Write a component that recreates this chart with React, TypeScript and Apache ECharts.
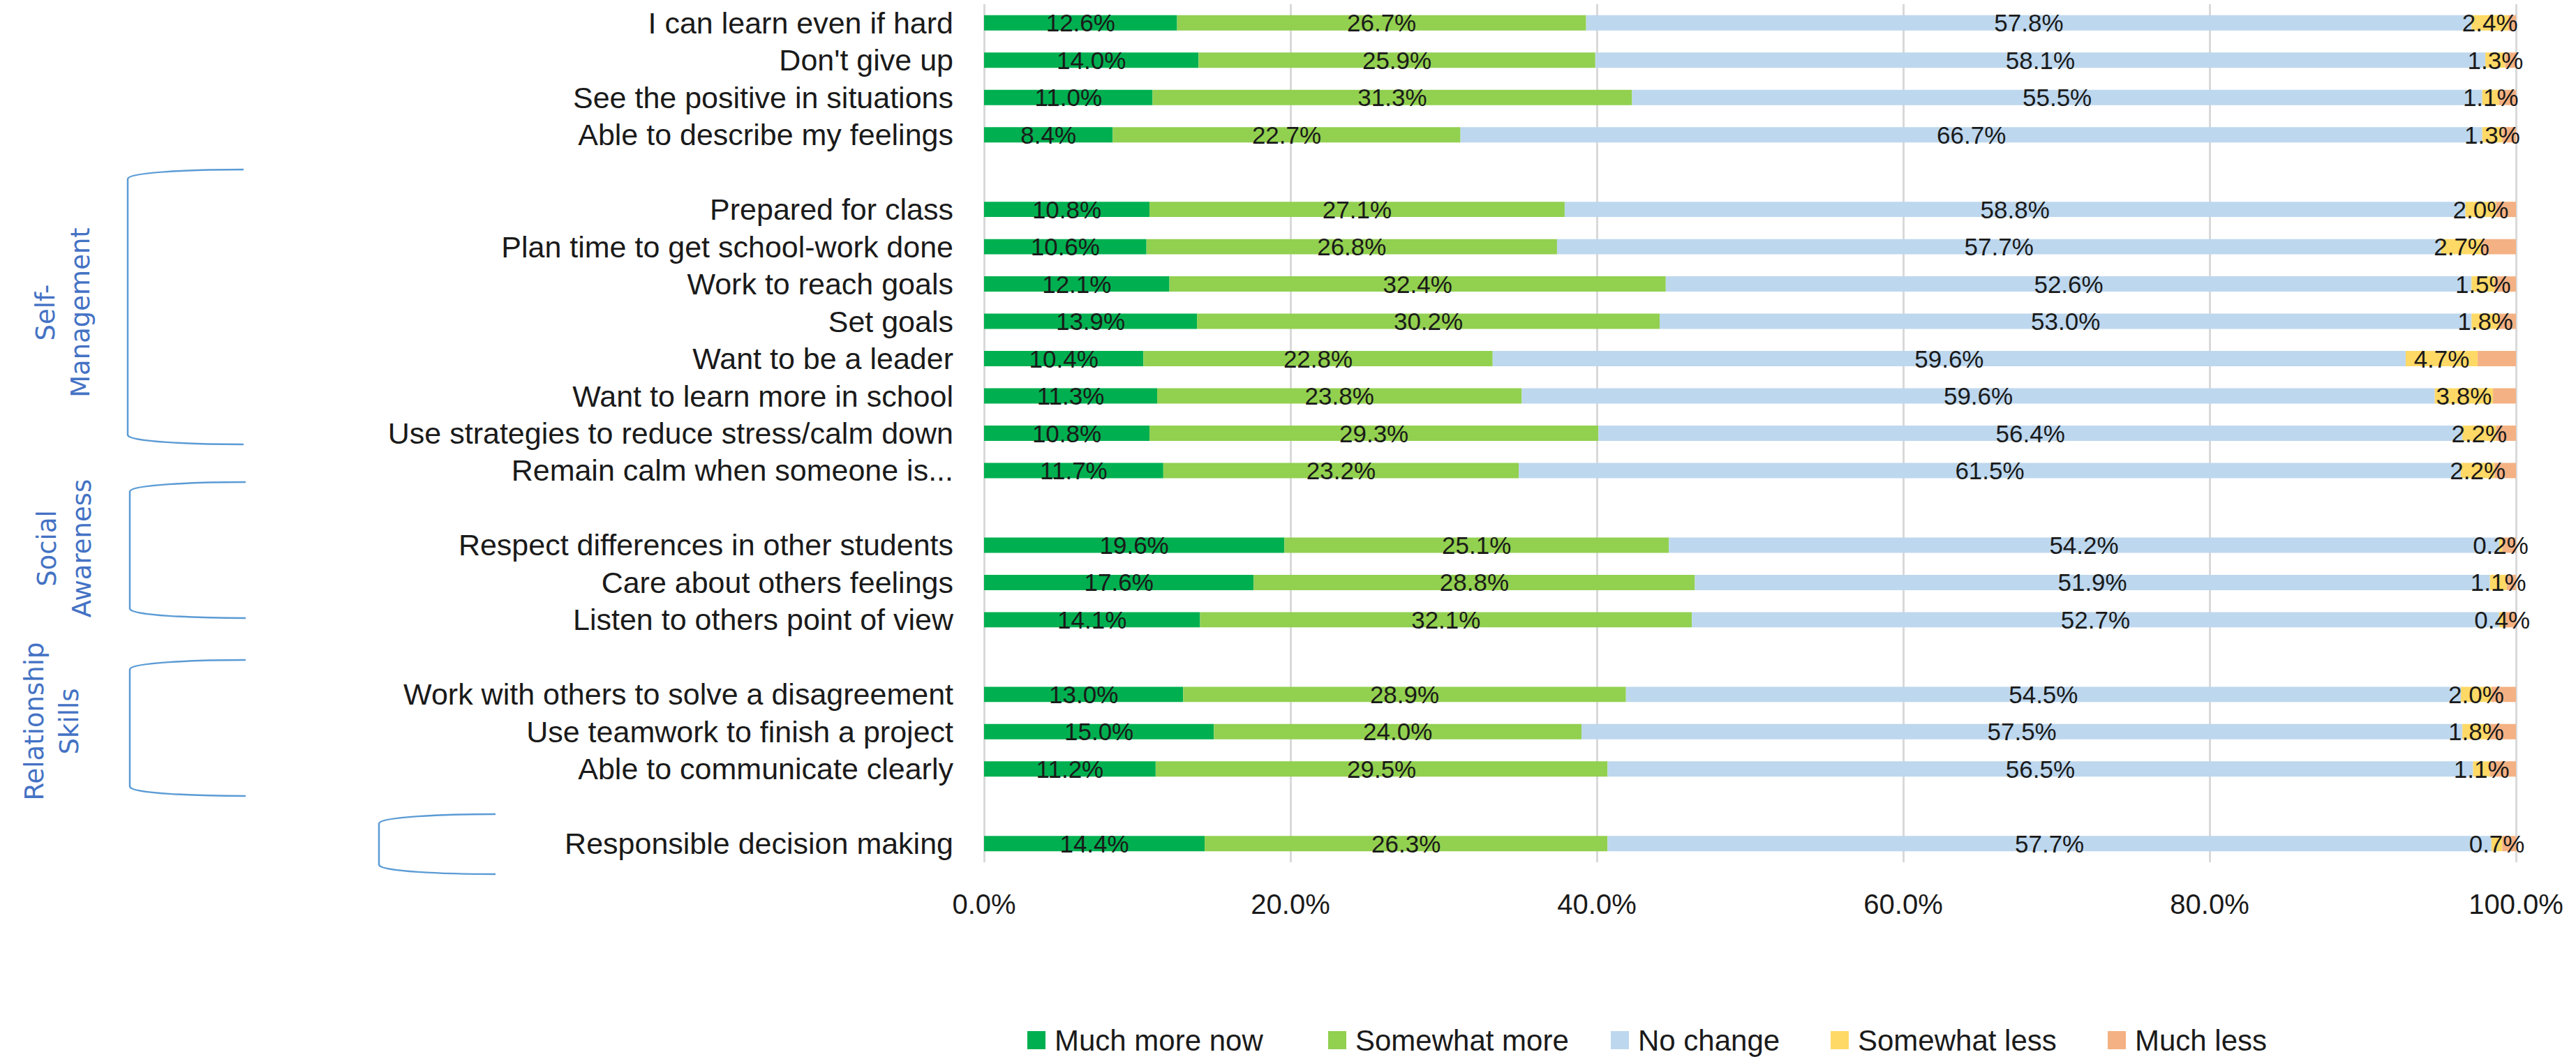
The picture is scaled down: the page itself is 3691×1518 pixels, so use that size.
import React, { useEffect, useRef } from "react";
import * as echarts from "echarts";

const categories = [
  "I can learn even if hard",
  "Don't give up",
  "See the positive in situations",
  "Able to describe my feelings",
  " ",
  "Prepared for class",
  "Plan time to get school-work done",
  "Work to reach goals",
  "Set goals",
  "Want to be a leader",
  "Want to learn more in school",
  "Use strategies to reduce stress/calm down",
  "Remain calm when someone is...",
  "  ",
  "Respect differences in other students",
  "Care about others feelings",
  "Listen to others point of view",
  "   ",
  "Work with others to solve a disagreement",
  "Use teamwork to finish a project",
  "Able to communicate clearly",
  "    ",
  "Responsible decision making",
];

const muchMoreNow = [12.6, 14.0, 11.0, 8.4, null, 10.8, 10.6, 12.1, 13.9, 10.4, 11.3, 10.8, 11.7, null, 19.6, 17.6, 14.1, null, 13.0, 15.0, 11.2, null, 14.4];
const somewhatMore = [26.7, 25.9, 31.3, 22.7, null, 27.1, 26.8, 32.4, 30.2, 22.8, 23.8, 29.3, 23.2, null, 25.1, 28.8, 32.1, null, 28.9, 24.0, 29.5, null, 26.3];
const noChange = [57.8, 58.1, 55.5, 66.7, null, 58.8, 57.7, 52.6, 53.0, 59.6, 59.6, 56.4, 61.5, null, 54.2, 51.9, 52.7, null, 54.5, 57.5, 56.5, null, 57.7];
const somewhatLess = [2.4, 1.3, 1.1, 1.3, null, 2.0, 2.7, 1.5, 1.8, 4.7, 3.8, 2.2, 2.2, null, 0.2, 1.1, 0.4, null, 2.0, 1.8, 1.1, null, 0.7];
const muchLess = [0.5, 0.7, 1.1, 0.9, null, 1.3, 2.2, 1.4, 1.1, 2.5, 1.5, 1.3, 1.4, null, 0.9, 0.6, 0.7, null, 1.6, 1.7, 1.7, null, 0.9];

const seriesNames = ["Much more now", "Somewhat more", "No change", "Somewhat less", "Much less"];
const seriesColors = ["#00B050", "#92D050", "#BDD7EE", "#FFD966", "#F4B183"];
const labelledSeries = [true, true, true, true, false];

const groupLabels = ["Self-\nManagement", "Social\nAwareness", "Relationship\nSkills"];

export default function App() {
  const ref = useRef<HTMLDivElement>(null);

  useEffect(() => {
    const chart = echarts.init(ref.current!, null, { renderer: "svg" });
    const font = "'Liberation Sans', Arial, sans-serif";
    const textColor = "#1a1a1a";
    const values = [muchMoreNow, somewhatMore, noChange, somewhatLess, muchLess];

    const series = seriesNames.map((name, i) => ({
      name,
      type: "bar",
      stack: "total",
      data: values[i],
      barCategoryGap: "59%",
      itemStyle: { color: seriesColors[i] },
      emphasis: { disabled: true },
      label: {
        show: labelledSeries[i],
        position: "inside",
        color: textColor,
        fontSize: 35,
        fontFamily: font,
        formatter: (p: any) => (p.value == null ? "" : `${Number(p.value).toFixed(1)}%`),
      },
    }));

    const legendX = [1472, 1903, 2308, 2623, 3020];
    const legend = seriesNames.map((n, i) => ({
      data: [n],
      left: legendX[i],
      top: 1470,
      itemWidth: 26,
      itemHeight: 26,
      padding: 0,
      icon: "rect",
      selectedMode: false,
      textStyle: { fontSize: 42, fontFamily: font, color: textColor, padding: [0, 0, 0, 8] },
    }));

    const bracketColor = "#5B9BD5";
    const brackets = [
      { xv: 183, xe: 349, yt: 243, yb: 637 },
      { xv: 186, xe: 352, yt: 691, yb: 886 },
      { xv: 186, xe: 352, yt: 946, yb: 1141 },
      { xv: 543, xe: 710, yt: 1167, yb: 1253 },
    ];
    const graphics: any[] = [];
    brackets.forEach((b) => {
      const style = { stroke: bracketColor, lineWidth: 2.5, fill: "none" };
      graphics.push({
        type: "bezierCurve",
        shape: { x1: b.xe, y1: b.yt, cpx1: b.xv + 90, cpy1: b.yt, cpx2: b.xv + 4, cpy2: b.yt + 4, x2: b.xv, y2: b.yt + 13 },
        style,
      });
      graphics.push({ type: "line", shape: { x1: b.xv, y1: b.yt + 13, x2: b.xv, y2: b.yb - 13 }, style });
      graphics.push({
        type: "bezierCurve",
        shape: { x1: b.xv, y1: b.yb - 13, cpx1: b.xv + 4, cpy1: b.yb - 4, cpx2: b.xv + 90, cpy2: b.yb, x2: b.xe, y2: b.yb },
        style,
      });
    });
    const labelPos = [
      { x: 90, y: 448 },
      { x: 92, y: 786 },
      { x: 74, y: 1034 },
    ];
    groupLabels.forEach((t, i) => {
      graphics.push({
        type: "text",
        x: labelPos[i].x,
        y: labelPos[i].y,
        rotation: Math.PI / 2,
        style: {
          text: t,
          fill: "#4472C4",
          fontSize: 37,
          fontFamily: "'DejaVu Sans', Verdana, sans-serif",
          align: "center",
          verticalAlign: "middle",
          lineHeight: 50,
        },
      });
    });

    chart.setOption({
      animation: false,
      backgroundColor: "#ffffff",
      grid: { left: 1410, right: 86, top: 6, bottom: 282, containLabel: false },
      legend,
      xAxis: {
        type: "value",
        min: 0,
        max: 100,
        interval: 20,
        axisLine: { show: false },
        axisTick: { show: false },
        splitLine: { show: true, lineStyle: { color: "#D9D9D9", width: 3 } },
        axisLabel: {
          margin: 40,
          fontSize: 40,
          fontFamily: font,
          color: textColor,
          formatter: (v: number) => `${v.toFixed(1)}%`,
        },
      },
      yAxis: {
        type: "category",
        data: categories,
        inverse: true,
        axisLine: { show: false },
        axisTick: { show: false },
        axisLabel: { interval: 0, margin: 44, fontSize: 43, fontFamily: font, color: textColor },
      },
      series,
      graphic: graphics,
    });

    return () => chart.dispose();
  }, []);

  return <div ref={ref} style={{ position: "fixed", left: 0, top: 0, width: 3691, height: 1518 }} />;
}
